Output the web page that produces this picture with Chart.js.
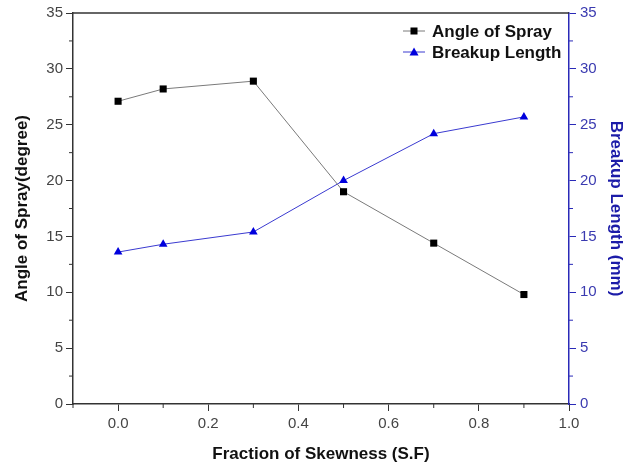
<!DOCTYPE html>
<html>
<head>
<meta charset="utf-8">
<script src="https://cdn.jsdelivr.net/npm/chart.js@4"></script>
<style>
  html, body { margin: 0; padding: 0; background: #fff; }
  #wrap { width: 634px; height: 469px; }
</style>
</head>
<body>
<div id="wrap"><canvas id="myChart" width="634" height="469"></canvas></div>
<script>
// skewness fractions and measured values
const skewness = [0.0, 0.1, 0.3, 0.5, 0.7, 0.9];
const sprayAngle = [27.1, 28.2, 28.9, 19.0, 14.4, 9.8];
const breakupLength = [13.6, 14.3, 15.4, 20.0, 24.2, 25.7];
const xTicks = [0.0, 0.2, 0.4, 0.6, 0.8, 1.0];
const yTicks = [0, 5, 10, 15, 20, 25, 30, 35];

const dark = '#333333';
const blue = '#2a2ab8';
const fontFamily = '"Liberation Sans", Arial, sans-serif';

function toPoints(ys) {
    return skewness.map((x, i) => ({ x: x, y: ys[i] }));
}

// minor ticks + top frame line
const framePlugin = {
    id: 'framePlugin',
    afterDraw(chart) {
        const ctx = chart.ctx;
        const area = chart.chartArea;
        const sx = chart.scales.x, sy = chart.scales.y, sy2 = chart.scales.y2;
        ctx.save();
        ctx.lineWidth = 1.5;
        ctx.strokeStyle = dark;
        ctx.beginPath();
        ctx.moveTo(area.left, area.top);
        ctx.lineTo(area.right, area.top);
        ctx.stroke();

        ctx.lineWidth = 1;
        ctx.beginPath();
        for (let v = 2.5; v < 35; v += 5) {
            const p = sy.getPixelForValue(v);
            ctx.moveTo(area.left, p);
            ctx.lineTo(area.left - 4, p);
        }
        for (let v = -0.1; v < 1.0; v += 0.2) {
            const p = sx.getPixelForValue(v);
            ctx.moveTo(p, area.bottom);
            ctx.lineTo(p, area.bottom + 4);
        }
        ctx.stroke();

        ctx.strokeStyle = blue;
        ctx.beginPath();
        for (let v = 2.5; v < 35; v += 5) {
            const p = sy2.getPixelForValue(v);
            ctx.moveTo(area.right, p);
            ctx.lineTo(area.right + 4, p);
        }
        ctx.stroke();
        ctx.restore();
    }
};

// legend drawn inside the plot, top right
const insideLegend = {
    id: 'insideLegend',
    afterDraw(chart) {
        const ctx = chart.ctx;
        ctx.save();
        ctx.font = 'bold 17px ' + fontFamily;
        ctx.textBaseline = 'middle';
        ctx.textAlign = 'left';
        chart.data.datasets.forEach((ds, i) => {
            const y = 31 + i * 21;
            const x0 = 403, x1 = 425, xm = 414;
            ctx.strokeStyle = ds.borderColor;
            ctx.lineWidth = 1;
            ctx.beginPath();
            ctx.moveTo(x0, y);
            ctx.lineTo(x1, y);
            ctx.stroke();
            ctx.fillStyle = ds.pointBackgroundColor;
            if (ds.pointStyle === 'rect') {
                ctx.fillRect(xm - 3.5, y - 3.5, 7, 7);
            } else {
                ctx.beginPath();
                ctx.moveTo(xm, y - 4.5);
                ctx.lineTo(xm + 4.5, y + 3.5);
                ctx.lineTo(xm - 4.5, y + 3.5);
                ctx.closePath();
                ctx.fill();
            }
            ctx.fillStyle = '#111';
            ctx.fillText(ds.label, 432, y + 1);
        });
        ctx.restore();
    }
};

const ctx = document.getElementById('myChart').getContext('2d');

new Chart(ctx, {
    type: 'line',
    data: {
        datasets: [{
            label: 'Angle of Spray',
            data: toPoints(sprayAngle),
            yAxisID: 'y',
            borderColor: '#7a7a7a',
            borderWidth: 1,
            pointStyle: 'rect',
            pointRadius: 5,
            pointBorderWidth: 0,
            pointBackgroundColor: '#000000',
            tension: 0
        }, {
            label: 'Breakup Length',
            data: toPoints(breakupLength),
            yAxisID: 'y2',
            borderColor: '#3a3ad0',
            borderWidth: 1,
            pointStyle: 'triangle',
            pointRadius: 5,
            pointBorderWidth: 0,
            pointBackgroundColor: '#0000dd',
            tension: 0
        }]
    },
    options: {
        responsive: false,
        animation: false,
        layout: { padding: { top: 12, left: 0, right: 0, bottom: 0 } },
        plugins: {
            legend: { display: false },
            tooltip: { enabled: false }
        },
        scales: {
            x: {
                type: 'linear',
                position: 'bottom',
                min: -0.1,
                max: 1.0,
                afterBuildTicks: scale => { scale.ticks = xTicks.map(v => ({ value: v })); },
                afterFit: scale => { scale.height = 65; },
                border: { color: dark, width: 1.5 },
                grid: { drawOnChartArea: false, color: dark, tickLength: 7 },
                ticks: {
                    color: '#444',
                    padding: 4,
                    maxRotation: 0,
                    font: { family: fontFamily, size: 15 },
                    callback: v => Number(v).toFixed(1)
                },
                title: {
                    display: true,
                    text: 'Fraction of Skewness (S.F)',
                    color: '#111',
                    padding: { top: 0, bottom: 4 },
                    font: { family: fontFamily, size: 17, weight: 'bold' }
                }
            },
            y: {
                position: 'left',
                min: 0,
                max: 35,
                afterBuildTicks: scale => { scale.ticks = yTicks.map(v => ({ value: v })); },
                afterFit: scale => { scale.width = 73; },
                border: { color: dark, width: 1.5 },
                grid: { drawOnChartArea: false, color: dark, tickLength: 7 },
                ticks: {
                    color: '#444',
                    padding: 3,
                    font: { family: fontFamily, size: 15 }
                },
                title: {
                    display: true,
                    text: 'Angle of Spray(degree)',
                    color: '#111',
                    padding: { top: 12, bottom: 0 },
                    font: { family: fontFamily, size: 17, weight: 'bold' }
                }
            },
            y2: {
                position: 'right',
                min: 0,
                max: 35,
                afterBuildTicks: scale => { scale.ticks = yTicks.map(v => ({ value: v })); },
                afterFit: scale => { scale.width = 65; },
                border: { color: blue, width: 1.5 },
                grid: { drawOnChartArea: false, color: blue, tickLength: 7 },
                ticks: {
                    color: '#3a3ab0',
                    padding: 4,
                    font: { family: fontFamily, size: 15 }
                },
                title: {
                    display: true,
                    text: 'Breakup Length (mm)',
                    color: '#1c1ca8',
                    padding: { top: 8, bottom: 0 },
                    font: { family: fontFamily, size: 17, weight: 'bold' }
                }
            }
        }
    },
    plugins: [framePlugin, insideLegend]
});
</script>
</body>
</html>
